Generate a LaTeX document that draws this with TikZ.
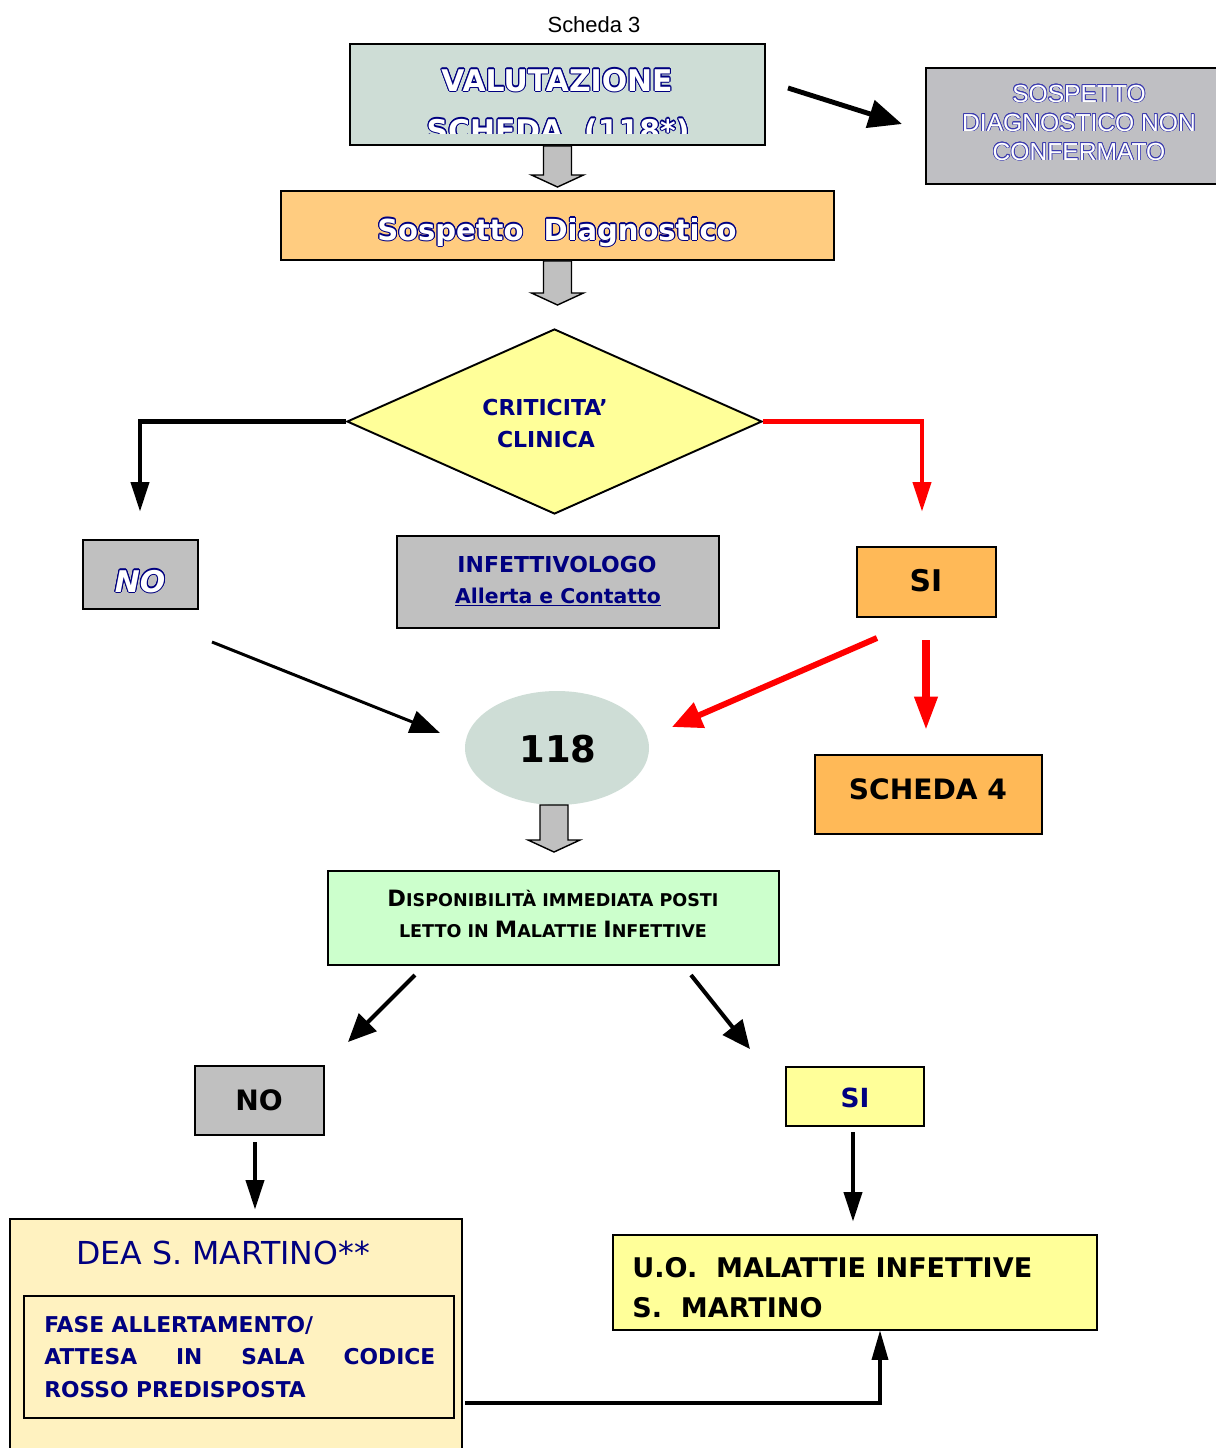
\documentclass[tikz,border=0pt]{standalone}
\usepackage{fontspec}
\setmainfont{DejaVu Sans}
\newfontfamily\arialf{Liberation Sans}
\usepackage{contour}
\contourlength{0.6pt}
\usetikzlibrary{arrows.meta,shapes.geometric,calc}
\definecolor{valfill}{RGB}{206,221,214}
\definecolor{sncfill}{RGB}{191,191,195}
\definecolor{sospfill}{RGB}{255,204,128}
\definecolor{yel}{RGB}{255,255,153}
\definecolor{gry}{RGB}{192,192,192}
\definecolor{org}{RGB}{255,185,87}
\definecolor{grn}{RGB}{204,255,204}
\definecolor{deafill}{RGB}{255,242,192}
\definecolor{navy}{RGB}{0,0,128}
\definecolor{sncblue}{RGB}{60,60,175}
\definecolor{arrgray}{RGB}{192,192,192}
\newcommand\bx[7]{\node[#6, minimum width={(#4-#2)*0.02cm}, minimum height={(#5-#3)*0.02cm}] (#1) at ({(#2+#4)/2},{(#3+#5)/2}) {#7};}
\newcommand\outl[2]{{\color{white}\contour{#1}{#2}}}
\newcommand\thinoutl[2]{{\contourlength{0.4pt}\color{white}\contour{#1}{#2}}}
\newcommand\fs[1]{\fontsize{#1}{#1}\selectfont}
\newcommand\garrow[2]{\draw[line width=0.8pt, fill=arrgray] ($(#1)+(-14,0)$) -- ($(#2)+(-14,-12)$) -- ($(#2)+(-26,-12)$) -- (#2) -- ($(#2)+(26,-12)$) -- ($(#2)+(14,-12)$) -- ($(#1)+(14,0)$) -- cycle;}
\begin{document}
\begin{tikzpicture}[x=0.02cm,y=-0.02cm,
  box/.style={draw=black, line width=1.1pt, inner sep=0pt},
  txt/.style={inner sep=0pt, anchor=base},
  bigtip/.style={-{Triangle[length=19pt,width=16pt]}},
  downtip/.style={-{Triangle[length=17pt,width=10pt]}},
]
\path[use as bounding box] (0,0) rectangle (1216,1448);
\fill[white] (0,0) rectangle (1216,1448);

% boxes
\bx{val}{350}{44}{765}{145}{box, fill=valfill}{}
\bx{snc}{926}{68}{1240}{184}{box, fill=sncfill}{}
\bx{sosp}{281}{191}{834}{260}{box, fill=sospfill}{}
\node[diamond, draw=black, line width=1.1pt, fill=yel, inner sep=0pt, minimum width={415*0.02cm}, minimum height={185*0.02cm}] (dia) at (554.5,421.5) {};
\bx{no1}{83}{540}{198}{609}{box, fill=gry}{}
\bx{inf}{397}{536}{719}{628}{box, fill=gry}{}
\bx{si1}{857}{547}{996}{617}{box, fill=org}{}
\node[ellipse, fill=valfill, inner sep=0pt, minimum width={184*0.02cm}, minimum height={114*0.02cm}] (ell) at (557,748) {};
\bx{sch4}{815}{755}{1042}{834}{box, fill=org}{}
\bx{disp}{328}{871}{779}{965}{box, fill=grn}{}
\bx{no2}{195}{1066}{324}{1135}{box, fill=gry}{}
\bx{si2}{786}{1067}{924}{1126}{box, fill=yel}{}
\bx{dea}{10}{1219}{462}{1470}{box, fill=deafill}{}
\bx{inner}{24}{1296}{454}{1418}{box, fill=deafill}{}
\bx{uo}{613}{1235}{1097}{1330}{box, fill=yel}{}

% texts
\node[txt, font=\arialf\fs{12.5pt}] (t0) at (594,32) {Scheda 3};
\node[txt, font=\bfseries\fs{17pt}] (t1) at (557,91) {\outl{navy}{VALUTAZIONE}};
\begin{scope}
\clip (352,46) rectangle (763,133);
\node[txt, font=\bfseries\fs{17pt}] (t2) at (558,141) {\outl{navy}{SCHEDA\ \ (118*)}};
\end{scope}
\node[txt, font=\arialf\fs{14pt}] (t3) at (1079,102) {\thinoutl{sncblue}{SOSPETTO}};
\node[txt, font=\arialf\fs{14pt}] (t4) at (1079,131) {\thinoutl{sncblue}{DIAGNOSTICO NON}};
\node[txt, font=\arialf\fs{14pt}] (t5) at (1079,160) {\thinoutl{sncblue}{CONFERMATO}};
\node[txt, font=\bfseries\fs{16.5pt}] (t6) at (557,240) {\outl{navy}{Sospetto\ \ Diagnostico}};
\node[txt, font=\bfseries\fs{12.5pt}, text=navy] (t7) at (545,415) {CRITICITA'};
\node[txt, font=\bfseries\fs{12.5pt}, text=navy] (t8) at (546,447) {CLINICA};
\node[txt, font=\bfseries\itshape\fs{17pt}] (t9) at (140,592) {\outl{navy}{NO}};
\node[txt, font=\bfseries\fs{12.5pt}, text=navy] (t10) at (557,572) {INFETTIVOLOGO};
\node[txt, font=\bfseries\fs{11.6pt}, text=navy] (t11) at (558,603) {\underline{Allerta e Contatto}};
\node[txt, font=\bfseries\fs{17pt}] (t12) at (926,591) {SI};
\node[txt, font=\bfseries\fs{21pt}] (t13) at (558,762) {118};
\node[txt, font=\bfseries\fs{16pt}] (t14) at (928,799) {SCHEDA 4};
\node[txt, font=\bfseries] (t15) at (553,906) {{\fs{12.8pt}D}{\fs{10pt}ISPONIBILITÀ IMMEDIATA POSTI}};
\node[txt, font=\bfseries] (t16) at (553,937) {{\fs{10pt}LETTO IN }{\fs{12.8pt}M}{\fs{10pt}ALATTIE }{\fs{12.8pt}I}{\fs{10pt}NFETTIVE}};
\node[txt, font=\bfseries\fs{16pt}] (t17) at (259,1110) {NO};
\node[txt, font=\bfseries\fs{15pt}, text=navy] (t18) at (855,1107) {SI};
\node[txt, anchor=base west, inner sep=0pt, font=\fs{18pt}, text=navy] (t19) at (76,1264) {DEA S. MARTINO**};
\node[txt, anchor=base west, font=\bfseries\fs{12.4pt}, text=navy] (t20) at (44,1332) {FASE ALLERTAMENTO/};
\node[txt, anchor=base west, font=\bfseries\fs{12.4pt}, text=navy] (t21) at (44,1364) {\makebox[7.82cm][s]{ATTESA\hfill IN\hfill SALA\hfill CODICE}};
\node[txt, anchor=base west, font=\bfseries\fs{12.4pt}, text=navy] (t22) at (44,1397) {ROSSO PREDISPOSTA};
\node[txt, anchor=base west, font=\bfseries\fs{15.4pt}] (t23) at (632,1277) {U.O.\ \ MALATTIE INFETTIVE};
\node[txt, anchor=base west, font=\bfseries\fs{15.4pt}] (t24) at (632,1317) {S.\ \ MARTINO};

% block arrows
\coordinate (g1) at (557.5,187);
\coordinate (g2) at (557.5,305);
\coordinate (g3) at (554,852);
\garrow{val.south}{g1}
\garrow{sosp.south}{g2}
\coordinate (e3s) at (554,805);
\garrow{e3s}{g3}

% connectors
\coordinate (a1s) at (788,88);
\coordinate (a1e) at (902,124);
\draw[line width=2.8pt, bigtip] (a1s) -- (a1e);
\coordinate (cno) at (140,512);
\coordinate (csi) at (922,512);
\draw[line width=2.8pt, downtip] (dia.west) -| (cno);
\draw[line width=2.8pt, red, downtip] (dia.east) -| (csi);
\coordinate (b1s) at (212,642);
\coordinate (b1e) at (440,733);
\draw[line width=1.7pt, -{Triangle[length=17pt,width=13pt]}] (b1s) -- (b1e);
\coordinate (b2s) at (877,638);
\coordinate (b2e) at (672,727);
\draw[line width=3.4pt, red, -{Triangle[length=17pt,width=15pt]}] (b2s) -- (b2e);
\coordinate (b3s) at (926,640);
\coordinate (b3e) at (926,730);
\draw[line width=4pt, red, -{Triangle[length=19pt,width=12.5pt]}] (b3s) -- (b3e);
\coordinate (d1s) at (415,975);
\coordinate (d1e) at (348,1042);
\coordinate (d2s) at (691,975);
\coordinate (d2e) at (750,1049);
\draw[line width=2.3pt, -{Triangle[length=16pt,width=14pt]}] (d1s) -- (d1e);
\draw[line width=2.3pt, -{Triangle[length=16pt,width=14pt]}] (d2s) -- (d2e);
\coordinate (n1s) at (255,1142);
\coordinate (n1e) at (255,1210);
\coordinate (s1s) at (853,1132);
\coordinate (s1e) at (853,1222);
\draw[line width=2.8pt, downtip] (n1s) -- (n1e);
\draw[line width=2.8pt, downtip] (s1s) -- (s1e);
\coordinate (fs) at (465,1403);
\coordinate (fe) at (880,1330);
\draw[line width=2.3pt, -{Triangle[length=17pt,width=9pt]}] (fs) -| (fe);
\end{tikzpicture}
\end{document}
